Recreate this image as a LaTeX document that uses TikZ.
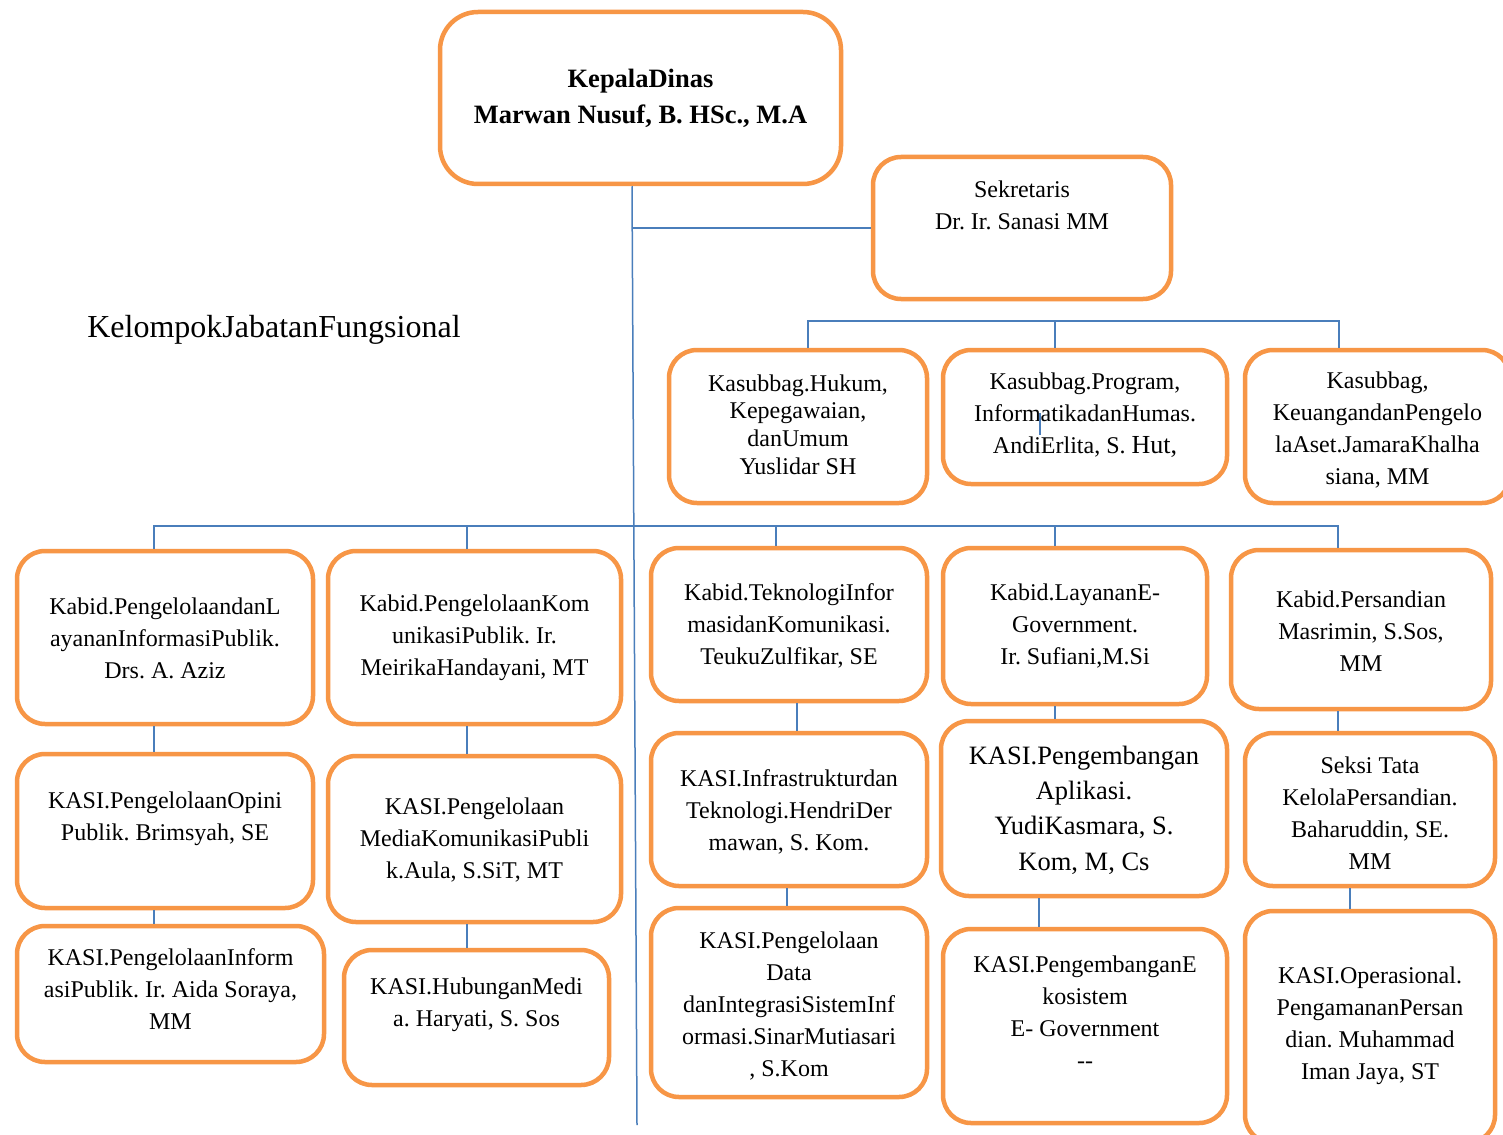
\documentclass[tikz,border=0pt]{standalone}
\usepackage{fontspec}
\setmainfont{Liberation Serif}
\usetikzlibrary{positioning}
\definecolor{oranye}{HTML}{F79646}
\definecolor{biru}{HTML}{4A7EBB}
\frenchspacing

\begin{document}
\begin{tikzpicture}[
    x=1pt,
    y=-1pt,
    kotak/.style={
      draw=oranye,
      line width=4.5pt,
      fill=white,
      rounded corners=28pt,
      inner sep=0,
    },
    teks/.style={
      inner sep=0,
      align=center,
      font=\fontsize{24}{32}\selectfont,
    },
    judul/.style={
      inner sep=0,
      font=\fontsize{32}{38}\selectfont,
    },
    garis/.style={
      line width=1.5pt,
      color=biru,
    },
  ]
    \newcommand\jabatan[8][]{%
      \node[kotak, minimum width={(#5-#3-4)*1pt}, minimum height={(#6-#4-4)*1pt}]
        (#2) at ({(#3+#5)/2}, {(#4+#6)/2}) {};
      \node[teks,#1] (#2-teks) at ({(#3+#5)/2}, {#7+2}) {#8};
    }
    \newcommand\sambung[3]{%
      \draw[garis] ([xshift=#3pt]#1.south) -- ([xshift=#3pt]#1.south |- #2.north);
    }

    \path[fill=white] (0,0) rectangle (1503,1134);
    \useasboundingbox (0,0) rectangle (1503,1134);

    \node[kotak, rounded corners=38pt, minimum width=401pt, minimum height=172pt]
      (kepala) at (640.5,98) {};
    \node[teks, font=\bfseries\fontsize{26.5}{36}\selectfont] (kepala-teks) at (640.5,98)
      {KepalaDinas\\Marwan Nusuf, B. HSc., M.A};
    \jabatan{sekretaris}{871}{155}{1173}{301}{203}{Sekretaris\\Dr. Ir. Sanasi MM}

    \node[judul] (fungsional) at (274,330) {KelompokJabatanFungsional};

    % kasubbag
    \jabatan[font=\fontsize{24}{27.7}\selectfont]{hukum}{667}{348}{929}{505}{422.5}
      {Kasubbag.Hukum,\\Kepegawaian,\\danUmum\\Yuslidar SH}
    \jabatan{program}{941}{348}{1229}{486}{413.5}
      {Kasubbag.Program,\\InformatikadanHumas.\\AndiErlita, S. {\fontsize{26}{32}\selectfont Hut,}}
    \jabatan{keuangan}{1243}{348}{1512}{505}{428.5}
      {Kasubbag,\\KeuangandanPengelo\\laAset.JamaraKhalha\\siana, MM}

    % kabid
    \jabatan{kabidA}{15}{549}{315}{726}{636}
      {Kabid.PengelolaandanL\\ayananInformasiPublik.\\Drs. A. Aziz}
    \jabatan{kabidB}{326}{549}{623}{726}{635.5}
      {Kabid.PengelolaanKom\\unikasiPublik. Ir.\\MeirikaHandayani, MT}
    \jabatan{kabidC}{649}{546}{929}{703}{623.5}
      {Kabid.TeknologiInfor\\masidanKomunikasi.\\TeukuZulfikar, SE}
    \jabatan{kabidD}{941}{546}{1209}{706}{624.5}
      {Kabid.LayananE-\\Government.\\Ir. Sufiani,M.Si}
    \jabatan{kabidE}{1229}{548}{1493}{711}{629}
      {Kabid.Persandian\\Masrimin, S.Sos,\\MM}

    % kasi
    \jabatan{kasiA1}{15}{752}{315}{910}{816.5}
      {KASI.PengelolaanOpini\\Publik. Brimsyah, SE}
    \jabatan{kasiB1}{326}{754}{623}{924}{838}
      {KASI.Pengelolaan\\MediaKomunikasiPubli\\k.Aula, S.SiT, MT}
    \jabatan{kasiC1}{649}{731}{929}{888}{809.5}
      {KASI.Infrastrukturdan\\Teknologi.HendriDer\\mawan, S. Kom.}
    \jabatan[font=\fontsize{26.5}{35.3}\selectfont]{kasiD1}{939}{719}{1229}{898}{808}
      {KASI.Pengembangan\\Aplikasi.\\YudiKasmara, S.\\Kom, M, Cs}
    \jabatan{kasiE1}{1243}{731}{1497}{888}{811}
      {Seksi Tata\\KelolaPersandian.\\Baharuddin, SE.\\MM}

    \jabatan{kasiA2}{15}{924}{326}{1064}{987.5}
      {KASI.PengelolaanInform\\asiPublik. Ir. Aida Soraya,\\MM}
    \jabatan{kasiB2}{342}{948}{611}{1087}{1003}
      {KASI.HubunganMedi\\a. Haryati, S. Sos}
    \jabatan{kasiC2}{649}{906}{929}{1099}{1004.5}
      {KASI.Pengelolaan\\Data\\danIntegrasiSistemInf\\ormasi.SinarMutiasari\\, S.Kom}
    \jabatan{kasiD2}{941}{927}{1229}{1125}{1010}
      {KASI.PengembanganE\\kosistem\\E- Government\\-{}-}
    \jabatan{kasiE2}{1243}{909}{1497}{1145}{1023.5}
      {KASI.Operasional.\\PengamananPersan\\dian. Muhammad\\Iman Jaya, ST}

    % garis utama
    \coordinate (pangkal) at ([xshift=-8.5pt]kepala.south);
    \coordinate (ujung) at (637,1125);
    \draw[garis] (pangkal) -- (ujung);
    \draw[garis] (sekretaris.west) -- (sekretaris.west -| pangkal);

    \coordinate (busatas) at (0,321);
    \draw[garis] ([xshift=10pt]hukum.north) |- ([xshift=-38.5pt]keuangan.north |- busatas)
      -- ([xshift=-38.5pt]keuangan.north);
    \draw[garis] ([xshift=-30pt]program.north) -- ([xshift=-30pt]program.north |- busatas);
    \coordinate (coret) at (1040,413);
    \draw[garis] (coret) -- ++(0,22);

    \coordinate (busbidang) at (0,526);
    \draw[garis] ([xshift=-11pt]kabidA.north) |- ([xshift=-23pt]kabidE.north |- busbidang)
      -- ([xshift=-23pt]kabidE.north);
    \draw[garis] ([xshift=-7.5pt]kabidB.north) -- ([xshift=-7.5pt]kabidB.north |- busbidang);
    \draw[garis] ([xshift=-13pt]kabidC.north) -- ([xshift=-13pt]kabidC.north |- busbidang);
    \draw[garis] ([xshift=-20pt]kabidD.north) -- ([xshift=-20pt]kabidD.north |- busbidang);

    \sambung{kabidA}{kasiA1}{-11}   \sambung{kasiA1}{kasiA2}{-11}
    \sambung{kabidB}{kasiB1}{-7.5}  \sambung{kasiB1}{kasiB2}{-7.5}
    \sambung{kabidC}{kasiC1}{8}     \sambung{kasiC1}{kasiC2}{-2}
    \sambung{kabidD}{kasiD1}{-20}   \sambung{kasiD1}{kasiD2}{-45}
    \sambung{kabidE}{kasiE1}{-23}   \sambung{kasiE1}{kasiE2}{-20}

   %\node[judul] at (640,1110) {};
  \end{tikzpicture}
\end{document}
